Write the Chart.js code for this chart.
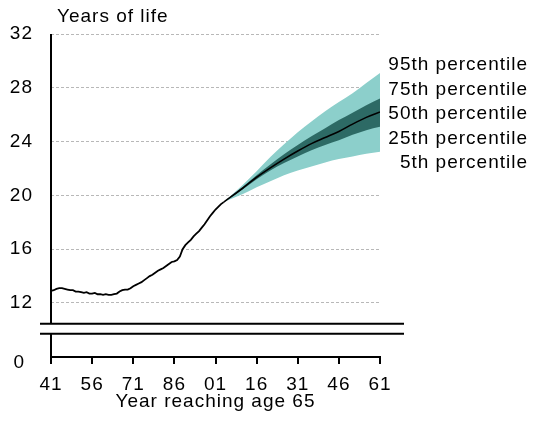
<!DOCTYPE html>
<html>
<head>
<meta charset="utf-8">
<script src="https://cdn.jsdelivr.net/npm/chart.js@4/dist/chart.umd.min.js"></script>
<style>
  html, body { margin: 0; padding: 0; background: #fff; }
  #wrap { width: 533px; height: 423px; position: relative; }
</style>
</head>
<body>
<div id="wrap"><canvas id="c" width="533" height="423"></canvas></div>
<script>
// Period life expectancy at 65: observed series and projection fan
const histYears = [1941,1942,1943,1944,1945,1946,1947,1948,1949,1950,
  1951,1952,1953,1954,1955,1956,1957,1958,1959,1960,
  1961,1962,1963,1964,1965,1966,1967,1968,1969,1970,
  1971,1972,1973,1974,1975,1976,1977,1978,1979,1980,
  1981,1982,1983,1984,1985,1986,1987,1988,1989,1990,
  1991,1992,1993,1994,1995,1996,1997,1998,1999,2000,
  2001,2002,2003,2004];
const histValues = [12.9,12.95,13.05,13.1,13.1,13.05,13.0,12.95,12.95,12.85,
  12.85,12.8,12.75,12.8,12.7,12.7,12.75,12.65,12.65,12.6,
  12.65,12.6,12.6,12.65,12.7,12.85,12.95,13.0,13.0,13.1,
  13.25,13.35,13.45,13.55,13.7,13.85,14.0,14.1,14.25,14.4,
  14.5,14.6,14.75,14.9,15.05,15.1,15.2,15.45,16.0,16.3,
  16.5,16.7,16.95,17.15,17.35,17.6,17.85,18.15,18.45,18.7,
  18.95,19.15,19.35,19.5];

const projYears = [2004,2011,2016,2021,2026,2031,2036,2041,2046,2051,2056,2061];
const p95 = [19.5,20.8,21.8,22.85,23.8,24.7,25.5,26.25,26.95,27.6,28.35,29.1];
const p75 = [19.5,20.65,21.5,22.3,23.05,23.75,24.4,25.0,25.6,26.15,26.7,27.2];
const p50 = [19.5,20.55,21.35,22.05,22.7,23.3,23.85,24.3,24.75,25.3,25.8,26.2];
const p25 = [19.5,20.45,21.2,21.85,22.4,22.9,23.35,23.75,24.1,24.5,24.85,25.1];
const p5  = [19.5,20.1,20.6,21.05,21.5,21.85,22.15,22.45,22.7,22.9,23.1,23.25];

const xTickValues = [1941,1956,1971,1986,2001,2016,2031,2046,2061];
const xTickLabels = ['41','56','71','86','01','16','31','46','61'];
const yTickValues = [12,16,20,24,28,32];
const lowerTickValues = [0];
const bandLabels = ['95th percentile','75th percentile','50th percentile','25th percentile','5th percentile'];
const yTitle = 'Years of life';
const xTitle = 'Year reaching age 65';

const FONT = "'Liberation Sans', Arial, sans-serif";
const INK = '#000';
const LIGHT = '#8ccfcb';
const DARK = '#2d6a65';

const pts = (xs, ys) => xs.map((x, i) => ({ x: x, y: ys[i] }));
const band = (ys, extra) => Object.assign({
  data: pts(projYears, ys), xAxisID: 'x', yAxisID: 'y',
  borderColor: 'transparent', borderWidth: 0,
  pointRadius: 0, cubicInterpolationMode: 'monotone', fill: false
}, extra);

// axis lines, the scale break and the free-standing text
const decor = {
  id: 'decor',
  beforeDraw(chart) { chart.ctx.letterSpacing = '1px'; },
  afterDraw(chart) {
    const { ctx, scales: { x, y, yLow } } = chart;
    const gapTop = y.bottom, gapBottom = y.bottom + 10;
    ctx.save();
    ctx.strokeStyle = INK;
    ctx.lineWidth = 2;
    ctx.beginPath();
    ctx.moveTo(x.left, y.top); ctx.lineTo(x.left, gapTop);
    ctx.moveTo(x.left - 11, gapTop); ctx.lineTo(x.right + 24, gapTop);
    ctx.moveTo(x.left - 11, gapBottom); ctx.lineTo(x.right + 24, gapBottom);
    ctx.moveTo(x.left, gapBottom); ctx.lineTo(x.left, yLow.bottom);
    ctx.stroke();

    ctx.fillStyle = INK;
    ctx.font = '19px ' + FONT;
    ctx.textBaseline = 'middle';
    ctx.textAlign = 'left';
    ctx.fillText(yTitle, x.left + 6, 17);
    ctx.textAlign = 'right';
    bandLabels.forEach((t, i) => ctx.fillText(t, chart.width - 5, 65 + i * 24.5));
    ctx.restore();
  }
};

new Chart(document.getElementById('c'), {
  type: 'line',
  data: {
    datasets: [
      { label: 'Observed', data: pts(histYears, histValues), xAxisID: 'x', yAxisID: 'y',
        borderColor: INK, borderWidth: 1.8, pointRadius: 0, tension: 0, fill: false },
      band(p50, { label: '50th percentile', borderColor: INK, borderWidth: 1.6 }),
      band(p75, { label: '75th percentile', backgroundColor: DARK, fill: '+1' }),
      band(p25, { label: '25th percentile' }),
      band(p95, { label: '95th percentile', backgroundColor: LIGHT, fill: '+1' }),
      band(p5,  { label: '5th percentile' })
    ]
  },
  options: {
    responsive: false,
    animation: false,
    devicePixelRatio: 1,
    layout: { padding: { top: 34, right: 153, left: 0, bottom: 0 } },
    plugins: { legend: { display: false }, tooltip: { enabled: false }, title: { display: false } },
    scales: {
      x: {
        type: 'linear', min: 1941, max: 2061,
        afterBuildTicks: s => { s.ticks = xTickValues.map(v => ({ value: v })); },
        ticks: { callback: (v, i) => xTickLabels[i], color: INK, font: { family: FONT, size: 19 },
                 padding: 9, maxRotation: 0, autoSkip: false },
        grid: { drawOnChartArea: false, drawTicks: true, tickLength: 7, color: INK, lineWidth: 2 },
        border: { display: true, color: INK, width: 2 },
        title: { display: true, text: xTitle, color: INK, font: { family: FONT, size: 19 },
                 padding: { top: 0, bottom: 10 } },
        afterFit: s => { s.height = 66; }
      },
      yLow: {
        type: 'linear', position: 'left', stack: 'v', stackWeight: 33.3, weight: 0,
        min: 0, max: 1,
        afterBuildTicks: s => { s.ticks = lowerTickValues.map(v => ({ value: v })); },
        ticks: { color: INK, font: { family: FONT, size: 19 }, padding: 18, labelOffset: 6 },
        grid: { display: false },
        border: { display: false },
        afterFit: s => { s.width = 51; }
      },
      y: {
        type: 'linear', position: 'left', stack: 'v', stackWeight: 289.7, weight: 1,
        min: 10.46, max: 32,
        afterBuildTicks: s => { s.ticks = yTickValues.map(v => ({ value: v })); },
        ticks: { color: INK, font: { family: FONT, size: 19 }, padding: 18 },
        grid: { color: '#b8b8b8', lineWidth: 1, drawTicks: false },
        border: { display: false, dash: [3, 2] },
        afterFit: s => { s.width = 51; }
      }
    }
  },
  plugins: [decor]
});
</script>
</body>
</html>
